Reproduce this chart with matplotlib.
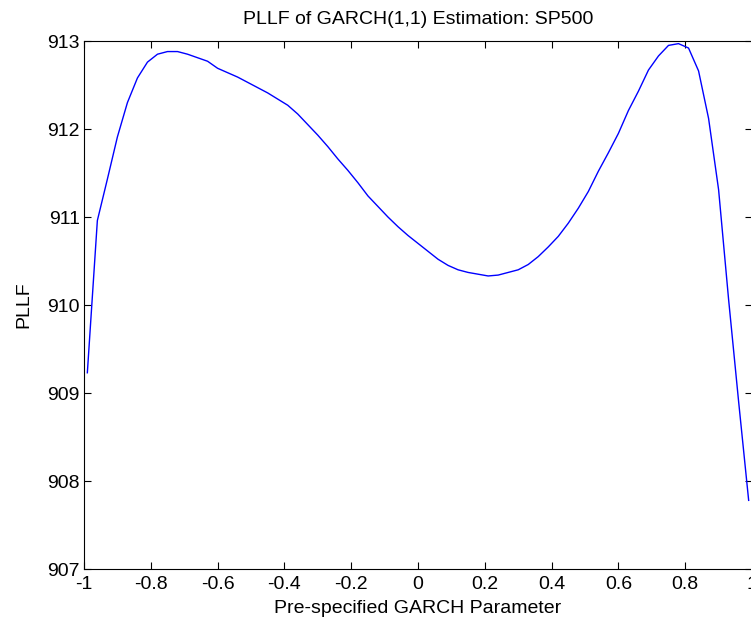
import numpy as np
from matplotlib import pyplot as plt

plt.rcParams['font.family'] = ['Liberation Sans', 'DejaVu Sans']

# pre-specified GARCH parameter grid and profile log-likelihood values
param = [-0.99, -0.96, -0.93, -0.90, -0.87, -0.84, -0.81, -0.78, -0.75, -0.72,
         -0.69, -0.66, -0.63, -0.60, -0.57, -0.54, -0.51, -0.48, -0.45, -0.42,
         -0.39, -0.36, -0.33, -0.30, -0.27, -0.24, -0.21, -0.18, -0.15, -0.12,
         -0.09, -0.06, -0.03, 0.00, 0.03, 0.06, 0.09, 0.12, 0.15, 0.18,
         0.21, 0.24, 0.27, 0.30, 0.33, 0.36, 0.39, 0.42, 0.45, 0.48,
         0.51, 0.54, 0.57, 0.60, 0.63, 0.66, 0.69, 0.72, 0.75, 0.78,
         0.81, 0.84, 0.87, 0.90, 0.93, 0.96, 0.99]
pllf = [909.23, 910.96, 911.43, 911.91, 912.30, 912.58, 912.76, 912.85, 912.88, 912.88,
        912.85, 912.81, 912.77, 912.69, 912.64, 912.59, 912.53, 912.47, 912.41, 912.34,
        912.27, 912.17, 912.05, 911.93, 911.80, 911.66, 911.53, 911.39, 911.24, 911.12,
        911.00, 910.89, 910.79, 910.70, 910.61, 910.52, 910.45, 910.40, 910.37, 910.35,
        910.33, 910.34, 910.37, 910.40, 910.46, 910.55, 910.66, 910.78, 910.93, 911.10,
        911.29, 911.52, 911.73, 911.95, 912.21, 912.43, 912.67, 912.83, 912.95, 912.97,
        912.92, 912.66, 912.12, 911.31, 910.06, 908.90, 907.78]

xticks = [-1, -0.8, -0.6, -0.4, -0.2, 0, 0.2, 0.4, 0.6, 0.8, 1]
xticklabels = ['-1', '-0.8', '-0.6', '-0.4', '-0.2', '0', '0.2', '0.4', '0.6', '0.8', '1']
yticks = [907, 908, 909, 910, 911, 912, 913]

fig = plt.figure(figsize=(7.51, 6.26), dpi=100)
ax = fig.add_axes([84 / 751, 57 / 626, 668 / 751, 528 / 626])
ax.plot(param, pllf, color='#0000ff', linewidth=1.0)

ax.set_xlim(-1, 1)
ax.set_ylim(907, 913)
ax.set_xticks(xticks)
ax.set_xticklabels(xticklabels)
ax.set_yticks(yticks)
ax.tick_params(direction='in', length=5, width=0.8, top=True, right=True,
               labelsize=14)
ax.tick_params(axis='x', pad=5)
ax.tick_params(axis='y', pad=3)
for s in ax.spines.values():
    s.set_linewidth(0.8)

ax.set_title('PLLF of GARCH(1,1) Estimation: SP500', fontsize=14, pad=12)
ax.set_xlabel('Pre-specified GARCH Parameter', fontsize=14, labelpad=5)
ax.set_ylabel('PLLF', fontsize=14, labelpad=11)

fig.savefig('out.png', dpi=100)
